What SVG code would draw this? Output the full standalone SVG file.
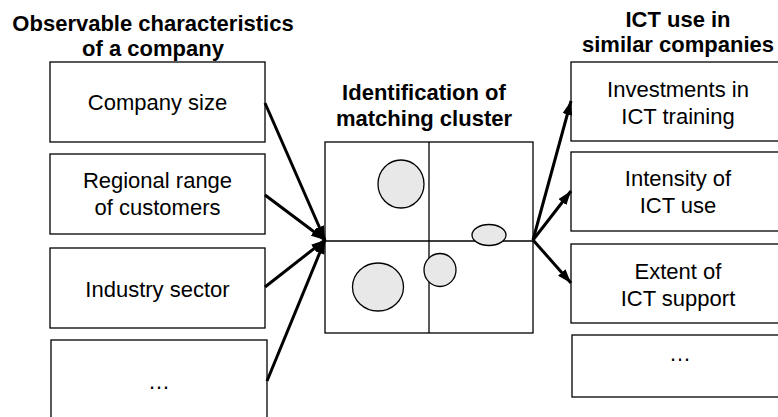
<svg xmlns="http://www.w3.org/2000/svg" width="778" height="417" viewBox="0 0 778 417">
<style>
.box{fill:#fff;stroke:#000;stroke-width:1.3}
.t{font-family:"Liberation Sans",Arial,sans-serif;font-size:22px;text-anchor:middle;fill:#000}
.h{font-family:"Liberation Sans",Arial,sans-serif;font-size:22px;font-weight:bold;text-anchor:middle;fill:#000}
.blob{fill:#e8e8e8;stroke:#000;stroke-width:1.3}
.ln{stroke:#000;stroke-width:1.3;fill:none}
.arr{stroke:#000;stroke-width:3;fill:none;marker-end:url(#ah)}
</style>
<defs>
<marker id="ah" markerUnits="userSpaceOnUse" markerWidth="14" markerHeight="10" refX="14" refY="5" orient="auto">
<path d="M0,0 L14,5 L0,10 z" fill="#000"/>
</marker>
</defs>
<rect width="778" height="417" fill="#fff"/>
<g id="titles">
<text class="h" x="153" y="31">Observable characteristics</text>
<text class="h" x="153" y="56">of a company</text>
<text class="h" x="424" y="100">Identification of</text>
<text class="h" x="424" y="126">matching cluster</text>
<text class="h" x="678" y="27">ICT use in</text>
<text class="h" x="678" y="52">similar companies</text>
</g>
<g id="left1"><rect class="box" x="50" y="62" width="215" height="80"/><text class="t" x="157.5" y="110">Company size</text></g>
<g id="left2"><rect class="box" x="50" y="154" width="215" height="80"/><text class="t" x="157.5" y="188">Regional range</text><text class="t" x="157.5" y="215">of customers</text></g>
<g id="left3"><rect class="box" x="50" y="248" width="215" height="80"/><text class="t" x="157.5" y="297">Industry sector</text></g>
<g id="left4"><rect class="box" x="51" y="340" width="216" height="90"/><text class="t" x="159" y="389">…</text></g>
<g id="cluster">
<rect class="box" x="325" y="142" width="208" height="191"/>
<line class="ln" x1="325" y1="241" x2="533" y2="241"/>
<line class="ln" x1="429" y1="142" x2="429" y2="333"/>
<ellipse class="blob" cx="401" cy="184" rx="23" ry="24"/>
<ellipse class="blob" cx="489" cy="235" rx="17" ry="10.5"/>
<ellipse class="blob" cx="440" cy="270" rx="16" ry="16.5"/>
<ellipse class="blob" cx="378" cy="287" rx="25.5" ry="24"/>
</g>
<g id="right1"><rect class="box" x="571" y="62" width="220" height="79"/><text class="t" x="678" y="97">Investments in</text><text class="t" x="678" y="124">ICT training</text></g>
<g id="right2"><rect class="box" x="571" y="152" width="220" height="79"/><text class="t" x="678" y="186">Intensity of</text><text class="t" x="678" y="213">ICT use</text></g>
<g id="right3"><rect class="box" x="571" y="244" width="220" height="79"/><text class="t" x="678" y="279">Extent of</text><text class="t" x="678" y="306">ICT support</text></g>
<g id="right4"><rect class="box" x="572" y="335" width="220" height="62"/><text class="t" x="680" y="361">…</text></g>
<g id="connectors">
<line class="arr" x1="265" y1="103" x2="325" y2="240"/>
<line class="arr" x1="265" y1="195" x2="325" y2="240"/>
<line class="arr" x1="265" y1="287" x2="325" y2="240"/>
<line class="arr" x1="267" y1="381" x2="325" y2="240"/>
<line class="arr" x1="533" y1="240" x2="571" y2="101"/>
<line class="arr" x1="533" y1="240" x2="571" y2="191"/>
<line class="arr" x1="533" y1="240" x2="571" y2="283"/>
</g>
</svg>
